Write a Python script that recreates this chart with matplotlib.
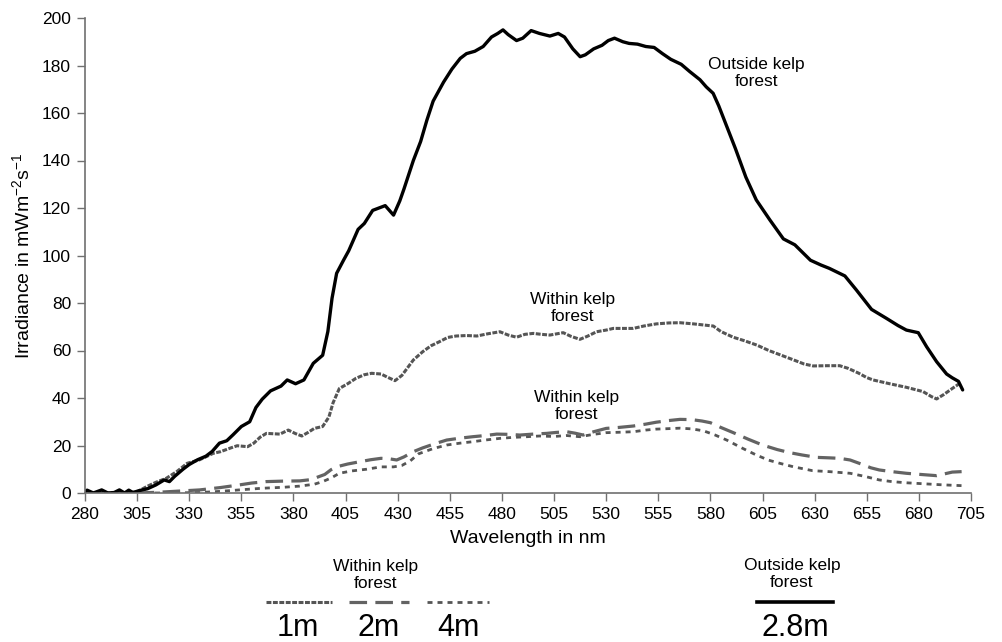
import matplotlib
matplotlib.use("Agg")
import matplotlib.pyplot as plt
from matplotlib.lines import Line2D

plt.rcParams['font.family'] = ['Liberation Sans', 'DejaVu Sans']

# ---------------- data ----------------
wl_out = [280, 281, 284, 288, 291, 294, 296.5, 299, 301, 303, 306, 310, 314, 318, 320.5, 323, 327, 330,
          334, 338, 341, 344.5, 348, 351, 355, 359, 362, 365, 369, 374, 377, 381, 385, 389.5, 394, 396.5,
          398.5, 400.7, 404, 406.5, 409, 411, 414, 418, 424, 428, 431, 433, 437.5, 441, 444, 447, 452, 456,
          460, 463, 467, 471, 475, 478, 480.5, 483, 487, 490, 494, 498, 503, 507, 510, 514, 517.5, 520, 524,
          528, 531, 534, 538, 541, 545, 549, 553, 557, 561, 566, 570, 575, 578, 581.3, 584, 588, 592, 597,
          602, 608.5, 615, 620.5, 628, 633, 637, 644.5, 650, 654, 657.3, 664.5, 670, 674, 679.7, 683.7,
          688.5, 693.3, 696, 699, 701]
irr_out = [0.3, 1.2, 0, 1.3, 0, 0.2, 1.3, 0, 1.2, 0.2, 1, 1.8, 3.4, 5.5, 4.8, 7, 10, 12,
           14, 15.5, 17.5, 21, 22, 24.5, 28, 30, 36, 39.5, 43, 45, 47.6, 46, 47.6, 54.6, 58, 68,
           82, 92.5, 98, 102, 107, 111, 113.5, 119, 121, 117, 123, 128, 140, 148, 157, 165, 173, 178.5,
           183, 185, 186, 188, 192, 193.5, 195, 193, 190.5, 191.5, 194.7, 193.5, 192.4, 193.5, 192, 187, 183.7, 184.5, 187,
           188.5, 190.5, 191.5, 190, 189.3, 189, 188, 187.6, 185, 182.6, 180.5, 177.5, 174, 171, 168.3, 163, 154, 145, 133,
           123.4, 115, 107, 104.5, 98, 96, 94.6, 91.4, 85.5, 81, 77.3, 73.5, 70.5, 68.6, 67.5, 61.6,
           55.3, 50.1, 48.5, 47, 43.4]

wl_1m = [280, 290, 300, 305, 309.6, 314, 319, 324, 329, 335, 341.5, 345, 350, 353, 358, 361, 364, 367,
         373.5, 377.5, 381, 384, 387, 390, 394, 397, 399, 402, 406, 410, 414, 417.5, 422, 425, 428.7, 432,
         437.5, 442, 446, 450, 454, 458, 463, 468, 473, 479, 483, 487, 491, 495, 499, 503, 509.4, 513,
         517.4, 521, 525.4, 530, 533.4, 543, 548, 554, 560, 565.4, 572, 581.4, 585, 590.9, 596, 602.2,
         608, 614.9, 620, 625, 629.3, 636, 642, 646, 651, 655, 658, 666, 674, 682, 686, 688.5, 692, 696, 699.7]
irr_1m = [0, 0, 0, 0.5, 2.7, 4.5, 6.2, 9, 12.5, 14, 16.7, 17.4, 19, 19.9, 19.5, 21, 23.5, 25.1,
          24.8, 26.5, 25, 24, 25.5, 27.2, 28, 32, 38, 44, 46, 48.3, 49.8, 50.4, 50.1, 48.8, 47.3, 49.5,
          56, 59.5, 62, 63.7, 65.5, 66.1, 66.3, 66.1, 67, 67.9, 66.5, 65.6, 66.8, 67.2, 66.8, 66.5, 67.5, 66,
          64.7, 66, 67.9, 68.6, 69.3, 69.3, 70.3, 71.2, 71.6, 71.7, 71.2, 70.3, 68, 65.6, 64.2, 62.3,
          60, 57.7, 56, 54.3, 53.5, 53.6, 53.6, 52.5, 50.5, 48.6, 47.6, 46, 44.5, 42.7, 40.6, 39.6, 41.5, 44, 46.2]

wl_2m = [280, 295, 305, 315, 325, 335, 345, 354, 360, 367, 375, 383, 388, 391, 395, 398, 401, 406, 412,
         417, 422, 426, 429.5, 433, 437.5, 442, 448, 453.5, 460, 466, 472, 477.5, 483, 488.6, 495, 501.4,
         506, 511, 515, 519, 524, 530, 536, 543, 549, 554, 560, 565.4, 571, 576, 580, 585, 591, 598, 605,
         612, 618, 624, 631, 637, 642, 647, 652, 657, 661, 667, 674, 681, 688.5, 692, 696, 700.5]
irr_2m = [0, 0, 0, 0.3, 0.8, 1.3, 2.3, 3.4, 4.2, 4.8, 5, 5.1, 5.6, 6.5, 7.8, 9.8, 11.1, 12.2, 13.2,
          14, 14.6, 14.4, 13.9, 15.2, 17.4, 19, 20.8, 22.3, 23.1, 23.7, 24.2, 24.8, 24.7, 24.4, 24.8, 25.1,
          25.5, 25.8, 25.2, 24.4, 25.8, 27.2, 27.6, 28.2, 29, 29.8, 30.5, 31, 30.9, 30.3, 29.6, 27.6, 25.4, 22.7, 20.2,
          18.3, 17, 16, 15, 14.8, 14.6, 13.9, 12.3, 10.6, 9.7, 9, 8.3, 7.8, 7.3, 8, 8.8, 9.0]

wl_4m = [280, 300, 320, 335, 345, 354, 365, 375, 383, 390, 394, 398, 402, 408, 415, 422, 428, 432, 436,
         440, 447, 453.5, 460, 466, 472, 479, 485, 492, 498, 505, 511, 517.4, 524, 530, 537, 543, 549, 554,
         560, 565.4, 571, 576.6, 582, 587.8, 595, 602, 608, 613.3, 620, 629, 637, 647, 654, 661, 667, 674,
         682, 690, 695, 700.5]
irr_4m = [0, 0, 0, 0.2, 0.7, 1.3, 2, 2.4, 2.9, 3.7, 4.8, 6.3, 8.3, 9.3, 10, 11, 11, 11.6, 13.5,
          16.5, 18.7, 20.2, 21, 21.6, 22.3, 23, 23.4, 23.7, 24, 23.8, 24.2, 23.7, 24.7, 25.4, 25.6, 25.8, 26.5, 26.9,
          27.1, 27.3, 27, 26.2, 24.5, 22.3, 19, 16, 13.8, 12.5, 11, 9.4, 9, 8.3, 7, 5.5, 4.8, 4.3,
          3.9, 3.5, 3.3, 3.1]

x_ticks = list(range(280, 706, 25))
y_ticks = list(range(0, 201, 20))

# ---------------- styles ----------------
GRAY = '#555555'
style_out = dict(color='black', lw=2.4, ls='-', solid_capstyle='round', solid_joinstyle='round')
style_1m = dict(color=GRAY, lw=2.2, ls=(0, (1.6, 0.5)))
style_2m = dict(color='#636363', lw=2.3, ls=(0, (5.5, 2.6)))
style_4m = dict(color=GRAY, lw=2.0, ls=(0, (1.8, 1.8)))

fig = plt.figure(figsize=(10.03, 6.42), dpi=100)
ax = fig.add_axes([85/1003, 1-493/642, (971-85)/1003, (493-18)/642])

ax.plot(wl_4m, irr_4m, **style_4m)
ax.plot(wl_2m, irr_2m, **style_2m)
ax.plot(wl_1m, irr_1m, **style_1m)
ax.plot(wl_out, irr_out, **style_out)

ax.set_xlim(280, 705)
ax.set_ylim(0, 200)
ax.set_xticks(x_ticks)
ax.set_yticks(y_ticks)
ax.tick_params(axis='both', labelsize=12.5, direction='out', length=6, width=1, color='#707070', pad=4)
for s in ['top', 'right']:
    ax.spines[s].set_visible(False)
for s in ['left', 'bottom']:
    ax.spines[s].set_color('#707070')
    ax.spines[s].set_linewidth(1.2)

ax.set_xlabel('Wavelength in nm', fontsize=14)
ax.set_ylabel('Irradiance in mWm$^{\\mathregular{-2}}$s$^{\\mathregular{-1}}$', fontsize=14)
ax.xaxis.set_label_coords(0.5, -0.078)
ax.yaxis.set_label_coords(-0.057, 0.5)

ax.text(602, 177, 'Outside kelp\nforest', ha='center', va='center', fontsize=12.5, linespacing=1.15)
ax.text(514, 78, 'Within kelp\nforest', ha='center', va='center', fontsize=12.5, linespacing=1.15)
ax.text(516, 36.6, 'Within kelp\nforest', ha='center', va='center', fontsize=12.5, linespacing=1.15)

# ---------------- bottom key ----------------
W, H = 1003, 642
def fx(px):
    return px / W
def fy(py):
    return 1 - py / H

fig.text(fx(376), fy(575), 'Within kelp\nforest', ha='center', va='center', fontsize=12.5, linespacing=1.15)
fig.text(fx(792), fy(574), 'Outside kelp\nforest', ha='center', va='center', fontsize=12.5, linespacing=1.15)

key = [(266, 332, style_1m, '1m', 298),
       (349, 409, style_2m, '2m', 379),
       (427, 489, style_4m, '4m', 458),
       (757, 833, dict(color='black', lw=2.6, ls='-'), '2.8m', 795)]
for x0, x1, st, lab, xc in key:
    fig.add_artist(Line2D([fx(x0), fx(x1)], [fy(602), fy(602)], transform=fig.transFigure, **st))
    fig.text(fx(xc), fy(628), lab, ha='center', va='center', fontsize=22)

fig.savefig('out.png', dpi=100)
